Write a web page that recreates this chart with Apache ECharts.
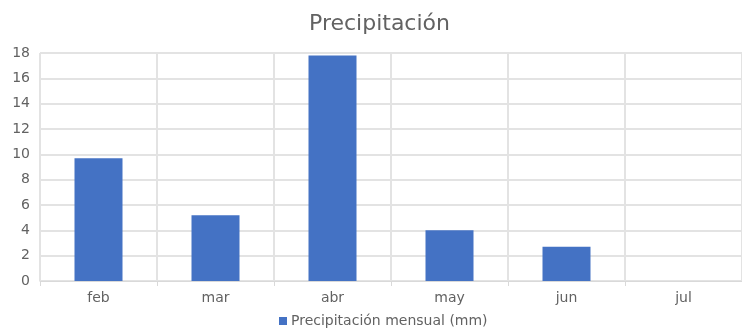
<!DOCTYPE html>
<html>
<head>
<meta charset="utf-8">
<script src="https://cdn.jsdelivr.net/npm/echarts@6/dist/echarts.min.js"></script>
<style>
  html, body { margin: 0; padding: 0; background: #fff; }
  #chart { width: 742px; height: 329px; }
</style>
</head>
<body>
<div id="chart"></div>
<script>
// Monthly rainfall (mm)
const months = ['feb', 'mar', 'abr', 'may', 'jun', 'jul'];
const rainfall = [9.7, 5.2, 17.8, 4.0, 2.7, 0];
const seriesName = 'Precipitación mensual (mm)';
const yMin = 0;
const yMax = 18;
const yStep = 2;

const font = '"DejaVu Sans", sans-serif';
const textColor = '#626262';
const chart = echarts.init(document.getElementById('chart'), null, { renderer: 'canvas' });

chart.setOption({
  animation: false,
  backgroundColor: '#ffffff',
  title: {
    text: 'Precipitación',
    left: 309,
    top: 13,
    padding: 0,
    textStyle: { fontFamily: font, fontSize: 22, fontWeight: 'normal', color: textColor }
  },
  legend: {
    top: 314,
    left: 279,
    padding: 0,
    itemWidth: 8,
    itemHeight: 8,
    icon: 'rect',
    textStyle: { fontFamily: font, fontSize: 14, color: textColor, padding: [0, 0, 0, -1] },
    data: [seriesName]
  },
  grid: {
    left: 40,
    top: 53,
    width: 706,
    height: 228,
    containLabel: false
  },
  xAxis: {
    type: 'category',
    data: months,
    boundaryGap: true,
    axisLine: { show: true, lineStyle: { color: '#d9d9d9', width: 1 } },
    axisTick: { show: true, length: 5, lineStyle: { color: '#d9d9d9' } },
    splitLine: { show: true, lineStyle: { color: '#e3e3e3', width: 2 } },
    axisLabel: { fontFamily: font, fontSize: 14, color: textColor, margin: 10 }
  },
  yAxis: {
    type: 'value',
    min: yMin,
    max: yMax,
    interval: yStep,
    axisLine: { show: false },
    axisTick: { show: false },
    splitLine: { show: true, lineStyle: { color: '#e3e3e3', width: 2 } },
    axisLabel: { fontFamily: font, fontSize: 14, color: textColor, margin: 10 }
  },
  series: [{
    name: seriesName,
    type: 'bar',
    data: rainfall,
    barWidth: 48,
    itemStyle: { color: '#4472c4' }
  }]
});
</script>
</body>
</html>
